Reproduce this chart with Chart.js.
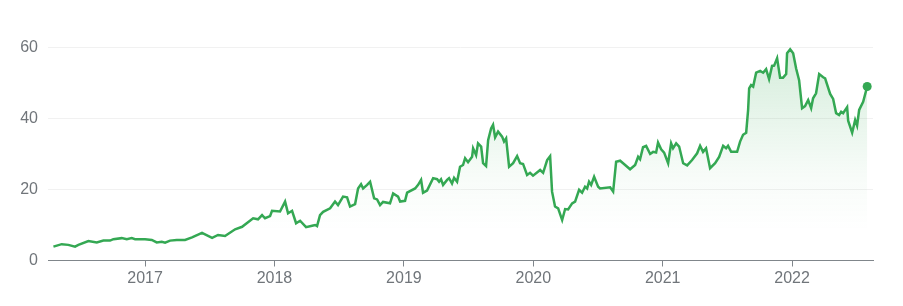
<!DOCTYPE html>
<html>
<head>
<meta charset="utf-8">
<script src="https://cdn.jsdelivr.net/npm/chart.js@4/dist/chart.umd.min.js"></script>
<style>
  html, body { margin: 0; padding: 0; background: #fff; }
  #wrap { width: 903px; height: 306px; }
</style>
</head>
<body>
<div id="wrap"><canvas id="priceChart"></canvas></div>
<script>
// fechas en años decimales
const fechas = [
  2016.292, 2016.356, 2016.407, 2016.459, 2016.485, 2016.562, 2016.627, 2016.678,
  2016.730, 2016.755, 2016.820, 2016.859, 2016.897, 2016.923, 2017.000, 2017.052,
  2017.090, 2017.129, 2017.155, 2017.193, 2017.245, 2017.309, 2017.363, 2017.440,
  2017.518, 2017.564, 2017.618, 2017.696, 2017.750, 2017.835, 2017.873, 2017.904,
  2017.927, 2017.966, 2017.981, 2018.043, 2018.082, 2018.105, 2018.136, 2018.167,
  2018.198, 2018.244, 2018.291, 2018.314, 2018.329, 2018.352, 2018.376, 2018.430,
  2018.468, 2018.491, 2018.530, 2018.561, 2018.584, 2018.623, 2018.646, 2018.669,
  2018.685, 2018.716, 2018.739, 2018.770, 2018.793, 2018.816, 2018.839, 2018.893,
  2018.917, 2018.955, 2018.971, 2019.009, 2019.025, 2019.087, 2019.110, 2019.133,
  2019.148, 2019.179, 2019.226, 2019.257, 2019.272, 2019.287, 2019.303, 2019.334,
  2019.349, 2019.372, 2019.388, 2019.411, 2019.434, 2019.457, 2019.473, 2019.496,
  2019.527, 2019.535, 2019.558, 2019.573, 2019.597, 2019.612, 2019.635, 2019.651,
  2019.674, 2019.689, 2019.705, 2019.728, 2019.759, 2019.774, 2019.790, 2019.813,
  2019.844, 2019.875, 2019.898, 2019.921, 2019.952, 2019.975, 2019.998, 2020.053,
  2020.076, 2020.107, 2020.130, 2020.145, 2020.168, 2020.192, 2020.223, 2020.246,
  2020.269, 2020.300, 2020.323, 2020.354, 2020.377, 2020.400, 2020.416, 2020.431,
  2020.447, 2020.470, 2020.501, 2020.516, 2020.594, 2020.617, 2020.640, 2020.671,
  2020.694, 2020.748, 2020.787, 2020.810, 2020.825, 2020.848, 2020.872, 2020.903,
  2020.926, 2020.949, 2020.964, 2020.988, 2021.011, 2021.042, 2021.065, 2021.080,
  2021.104, 2021.127, 2021.158, 2021.189, 2021.227, 2021.266, 2021.289, 2021.312,
  2021.335, 2021.366, 2021.405, 2021.436, 2021.467, 2021.490, 2021.505, 2021.529,
  2021.575, 2021.598, 2021.621, 2021.645, 2021.660, 2021.668, 2021.683, 2021.699,
  2021.722, 2021.753, 2021.776, 2021.799, 2021.822, 2021.845, 2021.861, 2021.884,
  2021.907, 2021.930, 2021.954, 2021.961, 2021.985, 2022.008, 2022.031, 2022.054,
  2022.077, 2022.100, 2022.124, 2022.147, 2022.162, 2022.185, 2022.209, 2022.240,
  2022.255, 2022.294, 2022.317, 2022.340, 2022.363, 2022.379, 2022.394, 2022.425,
  2022.433, 2022.464, 2022.487, 2022.502, 2022.518, 2022.549, 2022.580
];

// precio de cierre
const precios = [
  3.9, 4.6, 4.4, 3.9, 4.4, 5.5, 5.1, 5.6,
  5.6, 6.0, 6.3, 6.0, 6.3, 6.0, 6.0, 5.8,
  5.1, 5.3, 5.0, 5.6, 5.8, 5.8, 6.5, 7.8,
  6.4, 7.2, 6.9, 8.8, 9.5, 11.9, 11.6, 12.8,
  11.9, 12.5, 14.0, 13.8, 16.6, 13.3, 14.0, 10.5,
  11.2, 9.4, 9.8, 10.0, 9.7, 12.8, 13.7, 14.7,
  16.6, 15.6, 18.0, 17.8, 15.2, 15.9, 20.3, 21.5,
  20.3, 21.3, 22.2, 17.5, 17.2, 15.6, 16.5, 16.1,
  18.9, 18.0, 16.6, 16.8, 19.1, 20.3, 21.3, 22.7,
  19.1, 19.7, 23.2, 22.9, 22.2, 22.9, 21.3, 22.7,
  23.2, 21.7, 23.3, 22.2, 26.4, 26.9, 28.8, 27.7,
  29.2, 31.6, 29.7, 33.0, 32.1, 27.4, 26.6, 33.9,
  37.2, 38.2, 34.7, 36.3, 34.9, 33.5, 34.4, 26.4,
  27.4, 29.4, 27.4, 27.2, 24.1, 24.7, 23.9, 25.5,
  24.7, 28.3, 29.4, 19.4, 15.2, 14.7, 11.4, 14.5,
  14.4, 16.1, 16.6, 19.9, 19.1, 20.8, 20.3, 22.2,
  21.3, 23.6, 20.8, 20.3, 20.6, 19.4, 27.8, 28.1,
  27.4, 25.7, 26.9, 29.2, 28.5, 31.9, 32.3, 30.0,
  30.6, 30.4, 33.2, 31.3, 30.4, 27.4, 33.0, 31.6,
  33.0, 32.1, 27.4, 26.8, 28.3, 30.2, 32.3, 30.6,
  31.6, 26.0, 27.4, 29.2, 32.3, 31.6, 32.3, 30.6,
  30.6, 33.5, 35.4, 36.0, 42.4, 48.5, 49.4, 49.0,
  52.9, 53.4, 52.9, 53.9, 51.1, 54.8, 54.9, 57.0,
  51.5, 51.5, 52.5, 58.4, 59.5, 58.4, 54.1, 50.8,
  42.9, 43.5, 45.2, 42.9, 45.7, 47.1, 52.5, 51.6,
  51.3, 46.9, 45.5, 41.5, 41.0, 41.9, 41.5, 43.2,
  39.4, 36.0, 39.6, 38.0, 42.4, 44.7, 49.0
];

const aniosEje = [2017, 2018, 2019, 2020, 2021, 2022];
const valoresEjeY = [0, 20, 40, 60];

const verde = '#34a853';
const grisTexto = '#70757a';

const puntos = fechas.map((f, i) => ({ x: f, y: precios[i] }));
const ultimo = puntos.length - 1;

// degradado bajo la línea
function rellenoVerde(context) {
    const { ctx, chartArea } = context.chart;
    if (!chartArea) return 'rgba(52, 168, 83, 0.1)';
    const g = ctx.createLinearGradient(0, chartArea.top + 30, 0, chartArea.bottom - 30);
    g.addColorStop(0, 'rgba(52, 168, 83, 0.22)');
    g.addColorStop(0.7, 'rgba(52, 168, 83, 0.04)');
    g.addColorStop(1, 'rgba(52, 168, 83, 0)');
    return g;
}

const ctx = document.getElementById('priceChart').getContext('2d');

new Chart(ctx, {
    type: 'line',
    data: {
        datasets: [{
            data: puntos,
            borderColor: verde,
            borderWidth: 2.5,
            backgroundColor: rellenoVerde,
            fill: 'origin',
            tension: 0,
            pointRadius: c => (c.dataIndex === ultimo ? 4.5 : 0),
            pointBackgroundColor: verde,
            pointBorderWidth: 0,
            pointHoverRadius: 0
        }]
    },
    options: {
        responsive: true,
        maintainAspectRatio: false,
        animation: false,
        layout: { padding: { top: 12, right: 30, left: 0, bottom: 0 } },
        plugins: {
            legend: { display: false },
            tooltip: { enabled: false }
        },
        scales: {
            x: {
                type: 'linear',
                min: 2016.25,
                max: 2022.625,
                afterBuildTicks: scale => { scale.ticks = aniosEje.map(v => ({ value: v })); },
                afterFit: scale => {
                    scale.height = 45.5;
                    scale.paddingLeft = 0;
                    scale.paddingRight = 0;
                },
                grid: {
                    drawOnChartArea: false,
                    drawTicks: true,
                    tickLength: 6,
                    color: '#80868b'
                },
                border: { display: true, color: '#80868b', width: 1 },
                ticks: {
                    padding: 2,
                    color: grisTexto,
                    font: { family: '"Liberation Sans", Arial, sans-serif', size: 16 },
                    callback: v => String(v),
                    maxRotation: 0
                }
            },
            y: {
                min: 0,
                max: 70,
                afterBuildTicks: scale => { scale.ticks = valoresEjeY.map(v => ({ value: v })); },
                afterFit: scale => {
                    scale.width = 48;
                    scale.paddingTop = 0;
                    scale.paddingBottom = 0;
                },
                grid: {
                    drawTicks: false,
                    color: '#f1f1f1',
                    lineWidth: 1
                },
                border: { display: false },
                ticks: {
                    padding: 10,
                    color: grisTexto,
                    font: { family: '"Liberation Sans", Arial, sans-serif', size: 16 }
                }
            }
        }
    }
});
</script>
</body>
</html>
